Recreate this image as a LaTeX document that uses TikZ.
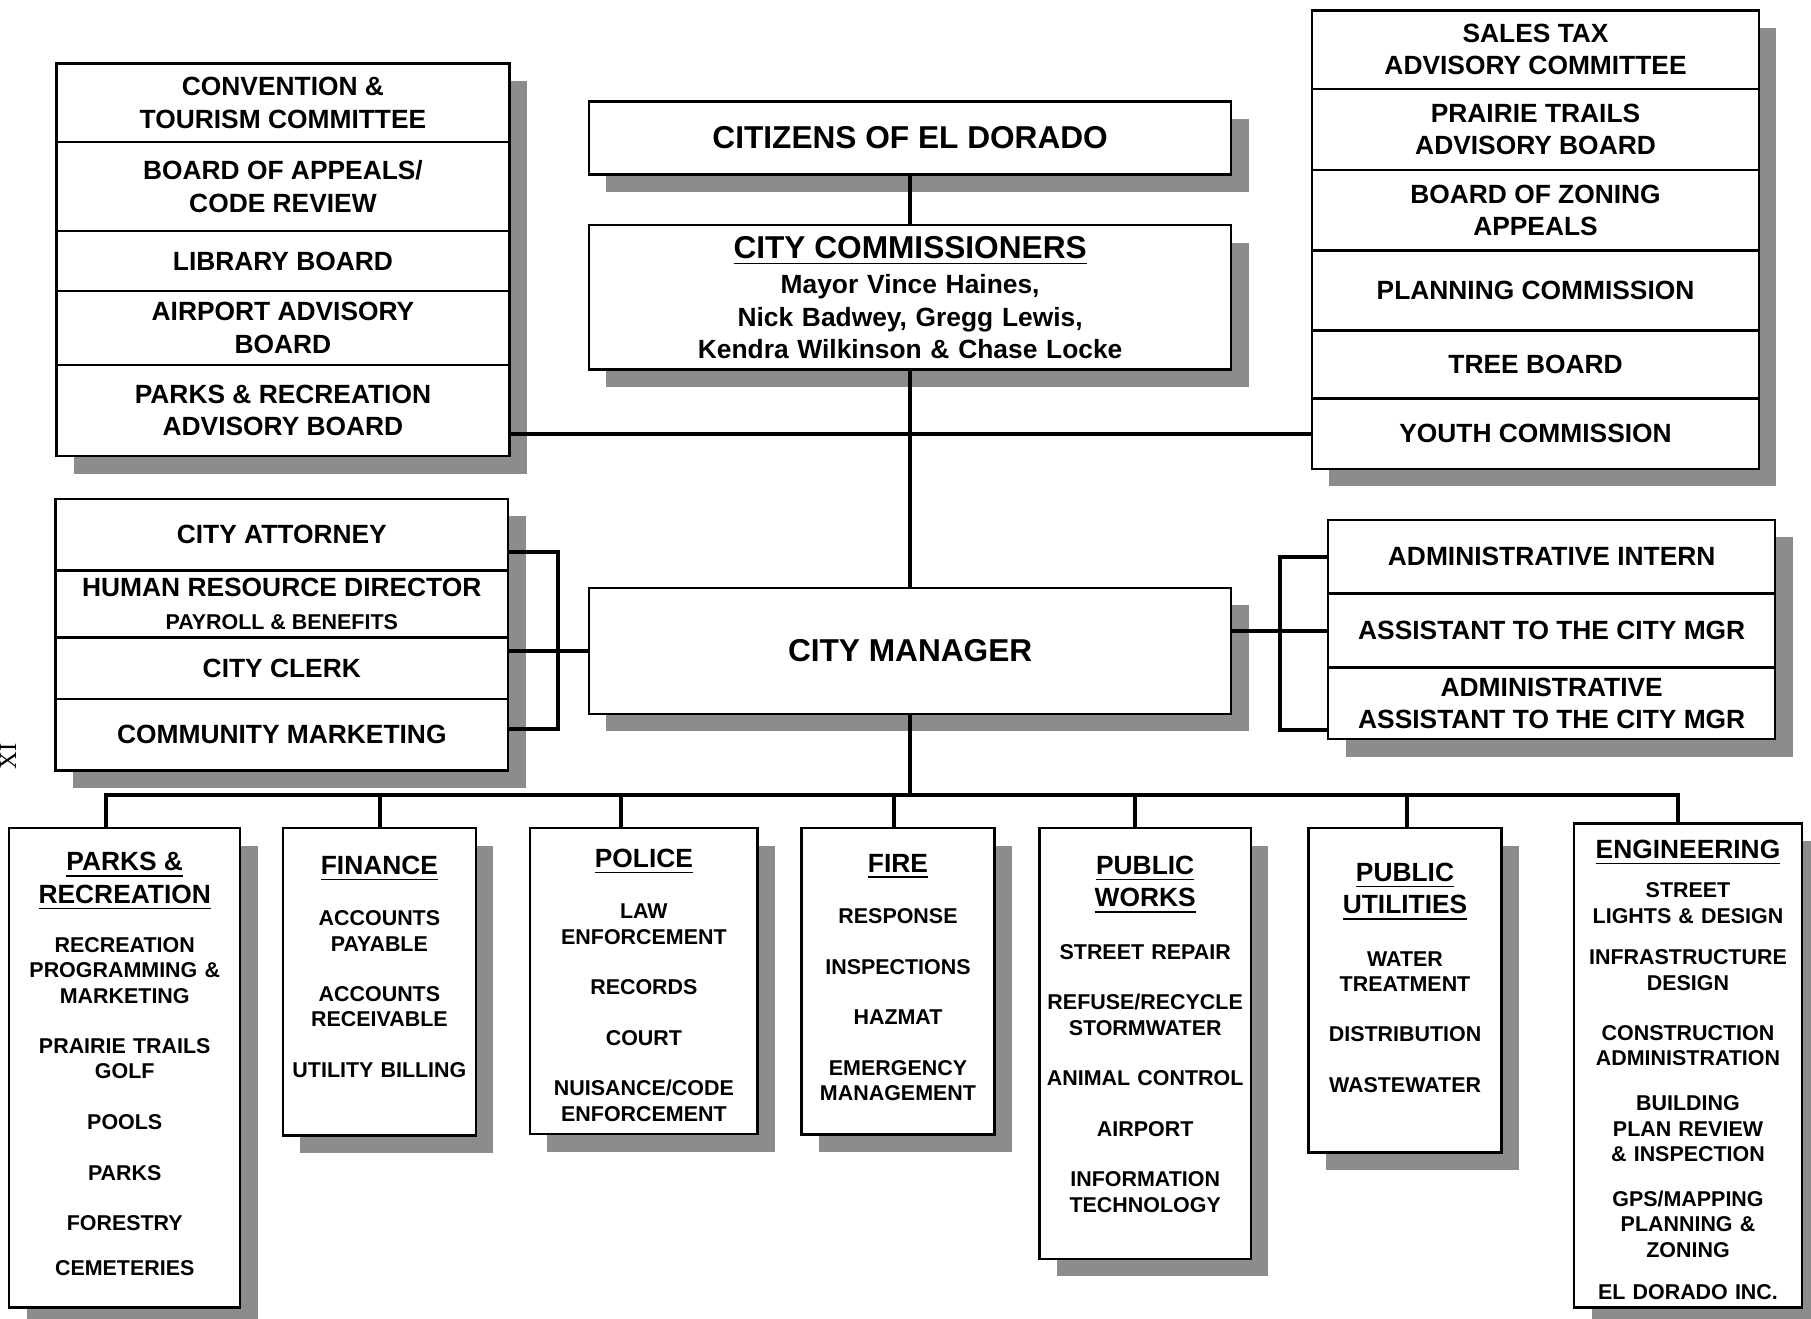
\documentclass[tikz,border=0pt]{standalone}
\usepackage{fontspec}
\setmainfont{Liberation Sans}
\newfontfamily\pagefont{Liberation Serif}
\usetikzlibrary{positioning, shadows}

\definecolor{shadowgray}{RGB}{140,140,140}

\newcommand\bigfont{\fontsize{9}{11}\selectfont}
\newcommand\boardfont{\fontsize{7.5}{9.2}\selectfont}
\newcommand\itemfont{\fontsize{6.1}{7.2}\selectfont}
\newcommand\itemgap{\\[7.2pt]}
\newcommand\depttitle[2][7.4pt]{{\boardfont #2\par}\vspace{#1}}
\def\pxu{0.01155cm}

\begin{document}
\begin{tikzpicture}[
        x=0.01155cm, y=-0.01155cm,
        font=\bfseries,
        shadowed/.style={drop shadow={shadow xshift=15*\pxu,
            shadow yshift=-15*\pxu, fill=shadowgray, opacity=1}},
        cell/.style={draw, fill=white, line width=0.7pt, shadowed,
            align=center, inner sep=0pt, outer sep=0pt, font=\boardfont\bfseries},
        lstack/.style={cell, minimum width=392*\pxu},
        rstack/.style={cell, minimum width=387*\pxu},
        headbox/.style={cell, minimum width=556*\pxu, font=\bigfont\bfseries},
        dept/.style={draw, fill=white, line width=0.7pt, shadowed,
            anchor=north, align=center, inner sep=0pt, font=\itemfont\bfseries},
        link/.style={line width=1.1pt},
    ]

    \useasboundingbox (0,0) rectangle (1568,1142);

    % page number
    \node[rotate=90, font=\pagefont\fontsize{7}{8}\selectfont] (pagenum) at (7,655) {XI};

    % boards and committees, left
    \node[lstack, minimum height=68*\pxu, anchor=north] (convention) at (245,55)
        {CONVENTION \&\\TOURISM COMMITTEE};
    \node[lstack, minimum height=77*\pxu, below=0pt of convention] (appeals)
        {BOARD OF APPEALS/\\CODE REVIEW};
    \node[lstack, minimum height=52*\pxu, below=0pt of appeals] (library)
        {LIBRARY BOARD};
    \node[lstack, minimum height=64*\pxu, below=0pt of library] (airport)
        {AIRPORT ADVISORY\\BOARD};
    \node[lstack, minimum height=79*\pxu, below=0pt of airport] (recboard)
        {PARKS \& RECREATION\\ADVISORY BOARD};

    % boards and committees, right
    \node[rstack, minimum height=68*\pxu, anchor=north] (salestax) at (1329.5,9)
        {SALES TAX\\ADVISORY COMMITTEE};
    \node[rstack, minimum height=70*\pxu, below=0pt of salestax] (trails)
        {PRAIRIE TRAILS\\ADVISORY BOARD};
    \node[rstack, minimum height=70*\pxu, below=0pt of trails] (zoning)
        {BOARD OF ZONING\\APPEALS};
    \node[rstack, minimum height=69*\pxu, below=0pt of zoning] (planning)
        {PLANNING COMMISSION};
    \node[rstack, minimum height=59*\pxu, below=0pt of planning] (tree)
        {TREE BOARD};
    \node[rstack, minimum height=61*\pxu, below=0pt of tree] (youth)
        {YOUTH COMMISSION};

    % main chain
    \node[headbox, minimum height=63*\pxu] (citizens) at (788,119.5)
        {CITIZENS OF EL DORADO};
    \node[cell, minimum width=556*\pxu, minimum height=125*\pxu, text width=6.24cm]
        (commissioners) at (788,257.5)
        {{\bigfont\underline{CITY COMMISSIONERS}\par}\vspace{0.9pt}%
        Mayor Vince Haines,\\Nick Badwey, Gregg Lewis,\\Kendra Wilkinson \& Chase Locke};
    \node[headbox, minimum height=109*\pxu] (manager) at (788,563.5)
        {CITY MANAGER};

    % staff, left
    \node[lstack, minimum height=62*\pxu, anchor=north] (attorney) at (244,432)
        {CITY ATTORNEY};
    \node[lstack, minimum height=58*\pxu, below=0pt of attorney] (hr)
        {HUMAN RESOURCE DIRECTOR\\{\itemfont PAYROLL \& BENEFITS}};
    \node[lstack, minimum height=53*\pxu, below=0pt of hr] (clerk)
        {CITY CLERK};
    \node[lstack, minimum height=62*\pxu, below=0pt of clerk] (marketing)
        {COMMUNITY MARKETING};

    % staff, right
    \node[rstack, minimum height=64*\pxu, anchor=north] (intern) at (1343.5,450)
        {ADMINISTRATIVE INTERN};
    \node[rstack, minimum height=64*\pxu, below=0pt of intern] (assistant)
        {ASSISTANT TO THE CITY MGR};
    \node[rstack, minimum height=62*\pxu, below=0pt of assistant] (admin)
        {ADMINISTRATIVE\\ASSISTANT TO THE CITY MGR};

    % departments
    \node[dept, minimum width=200*\pxu, text width=2.19cm,
        text height=12.16pt, text depth=124.2pt] (parks) at (108,716)
        {\depttitle[6.8pt]{\underline{PARKS \&}\\\underline{RECREATION}}%
        RECREATION\\PROGRAMMING \&\\MARKETING\itemgap
        PRAIRIE TRAILS\\GOLF\itemgap POOLS\itemgap PARKS\itemgap
        FORESTRY\\[5.6pt]CEMETERIES};
    \node[dept, minimum width=167*\pxu, text width=1.81cm,
        text height=13.15pt, text depth=74.3pt] (finance) at (328.5,716)
        {\depttitle{\underline{FINANCE}}%
        ACCOUNTS\\PAYABLE\itemgap ACCOUNTS\\RECEIVABLE\itemgap UTILITY BILLING};
    \node[dept, minimum width=197*\pxu, text width=2.16cm,
        text height=11.17pt, text depth=75.9pt] (police) at (557.5,716)
        {\depttitle{\underline{POLICE}}%
        LAW\\ENFORCEMENT\itemgap RECORDS\itemgap COURT\itemgap
        NUISANCE/CODE\\ENFORCEMENT};
    \node[dept, minimum width=167*\pxu, text width=1.81cm,
        text height=12.49pt, text depth=74.6pt] (fire) at (777.5,716)
        {\depttitle{\underline{FIRE}}%
        RESPONSE\itemgap INSPECTIONS\itemgap HAZMAT\itemgap
        EMERGENCY\\MANAGEMENT};
    \node[dept, minimum width=183*\pxu, text width=2.05cm,
        text height=13.15pt, text depth=109.4pt] (works) at (991.5,716)
        {\depttitle[7.7pt]{\underline{PUBLIC}\\\underline{WORKS}}%
        STREET REPAIR\itemgap REFUSE/RECYCLE\\STORMWATER\itemgap
        ANIMAL CONTROL\itemgap AIRPORT\itemgap INFORMATION\\TECHNOLOGY};
    \node[dept, minimum width=167*\pxu, text width=1.81cm,
        text height=15.12pt, text depth=77.2pt] (utilities) at (1216.5,716)
        {\depttitle[7.7pt]{\underline{PUBLIC}\\\underline{UTILITIES}}%
        WATER\\TREATMENT\itemgap DISTRIBUTION\itemgap WASTEWATER};
    \node[dept, minimum width=197*\pxu, text width=2.16cm,
        text height=9.86pt, text depth=127.8pt] (engineering) at (1461.5,712)
        {\depttitle[4.1pt]{\underline{ENGINEERING}}%
        STREET\\LIGHTS \& DESIGN\\[4.6pt]INFRASTRUCTURE\\DESIGN\itemgap
        CONSTRUCTION\\ADMINISTRATION\\[5.6pt]BUILDING\\PLAN REVIEW\\\& INSPECTION\\[5.6pt]
        GPS/MAPPING\\PLANNING \&\\ZONING\\[5pt]EL DORADO INC.};

    % connectors
    \draw[link] (citizens.south) -- (commissioners.north);
    \draw[link] (commissioners.south) -- (manager.north);
    \draw[link] (recboard.east |- youth.west) -- (youth.west);

    \coordinate (lbr) at (483,560);
    \draw[link] ([yshift=-15*\pxu]attorney.east) -| (lbr) |- ([yshift=5*\pxu]marketing.east);
    \draw[link] (clerk.east |- manager.west) -- (manager.west);

    \coordinate (rbr) at (1108,546);
    \draw[link] (intern.west) -| (rbr) |- ([yshift=-23*\pxu]admin.west);
    \draw[link] (manager.east |- assistant.west) -- (assistant.west);

    \foreach \d/\x in {parks/92, finance/329, police/538, fire/774,
            works/983, utilities/1218, engineering/1453} {
        \coordinate (drop\d) at (\x,688);
        \draw[link] (drop\d) -- (drop\d |- \d.north);
    }
    \draw[link] (manager.south) -- (manager.south |- dropparks);
    \draw[link, line cap=rect] (dropparks) -- (dropengineering);

\end{tikzpicture}
\end{document}
